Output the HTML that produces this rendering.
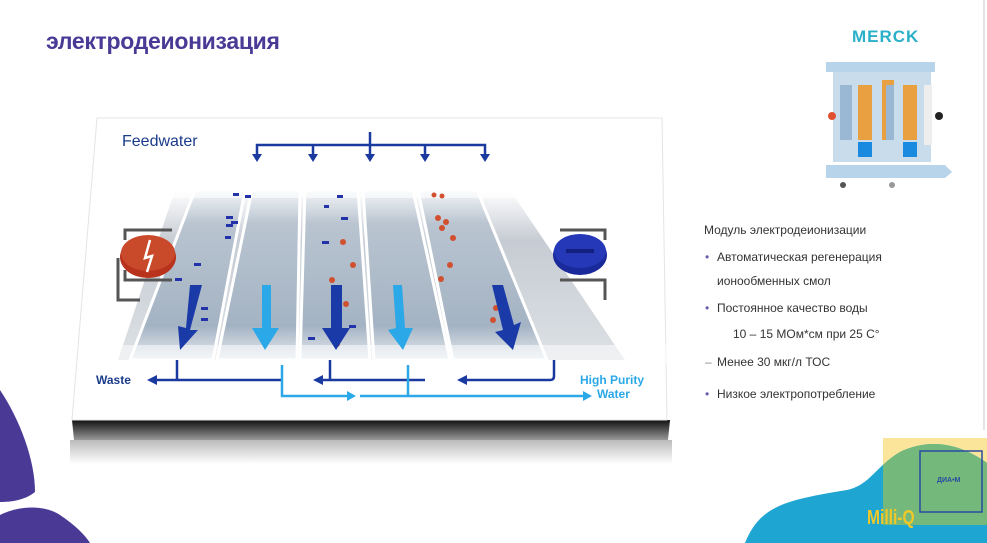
<!DOCTYPE html>
<html><head><meta charset="utf-8"><style>
html,body{margin:0;padding:0;background:#fff;width:987px;height:543px;overflow:hidden}
svg{display:block}
text{font-family:"Liberation Sans","DejaVu Sans",sans-serif}
</style></head><body>
<svg width="987" height="543" viewBox="0 0 987 543" xmlns="http://www.w3.org/2000/svg">
<defs>
<linearGradient id="ch" x1="0" y1="0" x2="0" y2="1">
<stop offset="0" stop-color="#f4f6f8"/><stop offset="0.2" stop-color="#b9c4d0"/><stop offset="0.8" stop-color="#a4b3c3"/><stop offset="1" stop-color="#e8ecf0"/>
</linearGradient>
<linearGradient id="band" x1="0" y1="0" x2="0" y2="1">
<stop offset="0" stop-color="#fff"/><stop offset="0.3" stop-color="#c6ccd3"/><stop offset="1" stop-color="#dde1e5"/>
</linearGradient>
<linearGradient id="edge" x1="0" y1="0" x2="0" y2="1">
<stop offset="0" stop-color="#111"/><stop offset="1" stop-color="#999"/>
</linearGradient>
<linearGradient id="sh" x1="0" y1="0" x2="0" y2="1">
<stop offset="0" stop-color="#bbb"/><stop offset="1" stop-color="#fff"/>
</linearGradient>
<clipPath id="yc"><rect x="883" y="438" width="104" height="87"/></clipPath>
</defs>
<rect width="987" height="543" fill="#fff"/>
<line x1="984" y1="0" x2="984" y2="430" stroke="#e4e4e4" stroke-width="2"/>

<text x="46" y="49" font-size="23" font-weight="bold" fill="#4a3a96" letter-spacing="-0.3">электродеионизация</text>

<rect x="70" y="440" width="602" height="24" fill="url(#sh)"/>
<polygon points="72,420 670,420 668,440 74,440" fill="url(#edge)"/>
<polygon points="97,118 662,118 667,420 72,420" fill="#fff" stroke="#e4e4e4"/>
<polygon points="175,190 510,190 625,360 118,360" fill="url(#band)"/>
<g stroke="#fff" stroke-width="3">
<polygon points="195,190 245,190 213,360 130,360" fill="url(#ch)"/>
<polygon points="252,190 300,190 297,360 217,360" fill="url(#ch)"/>
<polygon points="305,190 358,190 370,360 300,360" fill="url(#ch)"/>
<polygon points="363,190 413,190 450,360 374,360" fill="url(#ch)"/>
<polygon points="418,190 477,190 547,360 453,360" fill="url(#ch)"/>
</g>
<rect x="97" y="345" width="570" height="20" fill="#fff" opacity="0.5"/>
<rect x="150" y="180" width="400" height="18" fill="#fff" opacity="0.6"/>

<path d="M125,240 L125,230 L172,230 M125,270 L125,280 L172,280 M118,258 L118,300 L140,300" stroke="#555" stroke-width="3" fill="none"/>
<ellipse cx="148" cy="257" rx="28" ry="21" fill="#b8321c"/>
<ellipse cx="148" cy="253" rx="27" ry="18" fill="#c84a2a"/>
<path d="M150,240 L145,258 L152,256 L147,272" stroke="#fff" stroke-width="2.5" fill="none"/>
<path d="M560,230 L605,230 L605,240 M560,280 L605,280 L605,300" stroke="#555" stroke-width="3" fill="none"/>
<ellipse cx="580" cy="255" rx="27" ry="20" fill="#1a2a9a"/>
<ellipse cx="580" cy="251" rx="26" ry="17" fill="#2438b8"/>
<rect x="566" y="249" width="28" height="4" fill="#142080"/>

<g fill="#2233aa">
<rect x="233" y="193" width="6" height="3"/><rect x="245" y="195" width="6" height="3"/>
<rect x="226" y="216" width="7" height="3"/><rect x="231" y="221" width="7" height="3"/><rect x="226" y="224" width="7" height="3"/>
<rect x="225" y="236" width="6" height="3"/><rect x="194" y="263" width="7" height="3"/><rect x="175" y="278" width="7" height="3"/>
<rect x="201" y="307" width="7" height="3"/><rect x="201" y="318" width="7" height="3"/>
<rect x="337" y="195" width="6" height="3"/><rect x="324" y="205" width="5" height="3"/><rect x="341" y="217" width="7" height="3"/>
<rect x="322" y="241" width="7" height="3"/><rect x="349" y="325" width="7" height="3"/><rect x="308" y="337" width="7" height="3"/>
</g>
<g fill="#d05030">
<circle cx="343" cy="242" r="3"/><circle cx="353" cy="265" r="3"/><circle cx="332" cy="280" r="3"/><circle cx="346" cy="304" r="3"/><circle cx="337" cy="344" r="3"/>
<circle cx="434" cy="195" r="2.5"/><circle cx="442" cy="196" r="2.5"/><circle cx="438" cy="218" r="3"/><circle cx="446" cy="222" r="3"/><circle cx="442" cy="228" r="3"/>
<circle cx="453" cy="238" r="3"/><circle cx="450" cy="265" r="3"/><circle cx="441" cy="279" r="3"/><circle cx="496" cy="308" r="3"/><circle cx="493" cy="320" r="3"/>
</g>

<g fill="#1a3aa8">
<polygon points="190,285 202,285 190,330 198,330 180,350 178,326 186,328"/>
<polygon points="331,285 342,285 342,328 350,328 336,350 322,328 331,328"/>
<polygon points="492,285 503,285 514,325 521,322 513,350 495,332 503,330"/>
</g>
<g fill="#2aa8e8">
<polygon points="262,285 271,285 271,328 279,328 265,350 252,328 262,328"/>
<polygon points="393,285 402,285 405,328 413,328 403,350 388,330 396,328"/>
</g>

<g stroke="#1a3aa0" stroke-width="2.5" fill="none">
<path d="M257,158 L257,145 L485,145 L485,158"/>
<line x1="370" y1="132" x2="370" y2="158"/>
<line x1="313" y1="145" x2="313" y2="158"/><line x1="425" y1="145" x2="425" y2="158"/>
</g>
<g fill="#1a3aa0">
<polygon points="252,154 262,154 257,162"/><polygon points="308,154 318,154 313,162"/><polygon points="365,154 375,154 370,162"/><polygon points="420,154 430,154 425,162"/><polygon points="480,154 490,154 485,162"/>
</g>
<text x="122" y="146" font-size="16" fill="#1a3a8a">Feedwater</text>

<g stroke="#1a3aa0" stroke-width="2.5" fill="none">
<path d="M155,380 L282,380 M177,360 L177,380"/>
<path d="M320,380 L425,380 M330,360 L330,380"/>
<path d="M464,380 L550,380 Q554,380 554,376 L554,360"/>
</g>
<g fill="#1a3aa0">
<polygon points="147,380 157,375 157,385"/><polygon points="313,380 323,375 323,385"/><polygon points="457,380 467,375 467,385"/>
</g>
<text x="96" y="384" font-size="12" font-weight="bold" fill="#1a3a8a">Waste</text>

<g stroke="#2aa8e8" stroke-width="2.5" fill="none">
<path d="M282,365 L282,396 L350,396"/>
<path d="M360,396 L585,396 M408,365 L408,396"/>
</g>
<g fill="#2aa8e8"><polygon points="356,396 347,391 347,401"/><polygon points="592,396 583,391 583,401"/></g>
<text x="580" y="384" font-size="12" font-weight="bold" fill="#2aa8e8">High Purity</text>
<text x="597" y="398" font-size="12" font-weight="bold" fill="#2aa8e8">Water</text>

<text x="852" y="42" font-size="17" font-weight="bold" fill="#2ab0c8" letter-spacing="1">MERCK</text>
<path d="M826,62 L935,62 L935,72 L826,72 Z" fill="#b8d4ea"/>
<rect x="833" y="72" width="98" height="90" fill="#c8dcec"/>
<g fill="#e9a040">
<rect x="858" y="85" width="14" height="55"/><rect x="903" y="85" width="14" height="55"/><rect x="882" y="80" width="12" height="60"/>
</g>
<g fill="#9ab8d4"><rect x="840" y="85" width="12" height="55"/><rect x="886" y="85" width="8" height="55"/></g>
<rect x="858" y="142" width="14" height="15" fill="#1a8ae0"/><rect x="903" y="142" width="14" height="15" fill="#1a8ae0"/>
<rect x="924" y="85" width="8" height="60" fill="#eee"/>
<path d="M826,165 L945,165 L952,172 L945,178 L826,178 Z" fill="#b8d4ea"/>
<circle cx="832" cy="116" r="4" fill="#e05030"/><circle cx="939" cy="116" r="4" fill="#222"/>
<circle cx="843" cy="185" r="3" fill="#555"/><circle cx="892" cy="185" r="3" fill="#999"/>

<g font-size="12" fill="#333">
<text x="704" y="234">Модуль электродеионизации</text>
<text x="705" y="261" fill="#6a5aa8">•</text><text x="717" y="261">Автоматическая регенерация</text>
<text x="717" y="285">ионообменных смол</text>
<text x="705" y="312" fill="#6a5aa8">•</text><text x="717" y="312">Постоянное качество воды</text>
<text x="733" y="338">10 – 15 МОм*см при 25 С°</text>
<text x="705" y="366" fill="#888">–</text><text x="717" y="366">Менее 30 мкг/л ТОС</text>
<text x="705" y="398" fill="#6a5aa8">•</text><text x="717" y="398">Низкое электропотребление</text>
</g>

<path d="M0,390 C20,420 35,460 35,492 C25,500 12,502 0,502 Z" fill="#4a3a96"/>
<path d="M0,515 C20,505 45,505 60,515 C75,525 85,535 90,543 L0,543 Z" fill="#4a3a96"/>

<rect x="883" y="438" width="104" height="87" fill="#fbe59a"/>
<path d="M745,543 C760,505 787,500 847,490 C870,485 875,467 900,452 C925,440 955,440 987,463 L987,543 Z" fill="#1ea5d2"/>
<path d="M745,543 C760,505 787,500 847,490 C870,485 875,467 900,452 C925,440 955,440 987,463 L987,543 Z" fill="#74b87c" clip-path="url(#yc)"/>
<rect x="920" y="451" width="62" height="61" fill="none" stroke="#2a4aa0" stroke-width="1.5"/>
<text x="937" y="482" font-size="7" font-weight="bold" fill="#2a4aa0">ДИА•М</text>
<text x="0" y="0" font-size="20" font-weight="bold" fill="#f0c828" transform="translate(867,524) scale(0.78,1)">Milli-Q</text>
</svg>
</body></html>
